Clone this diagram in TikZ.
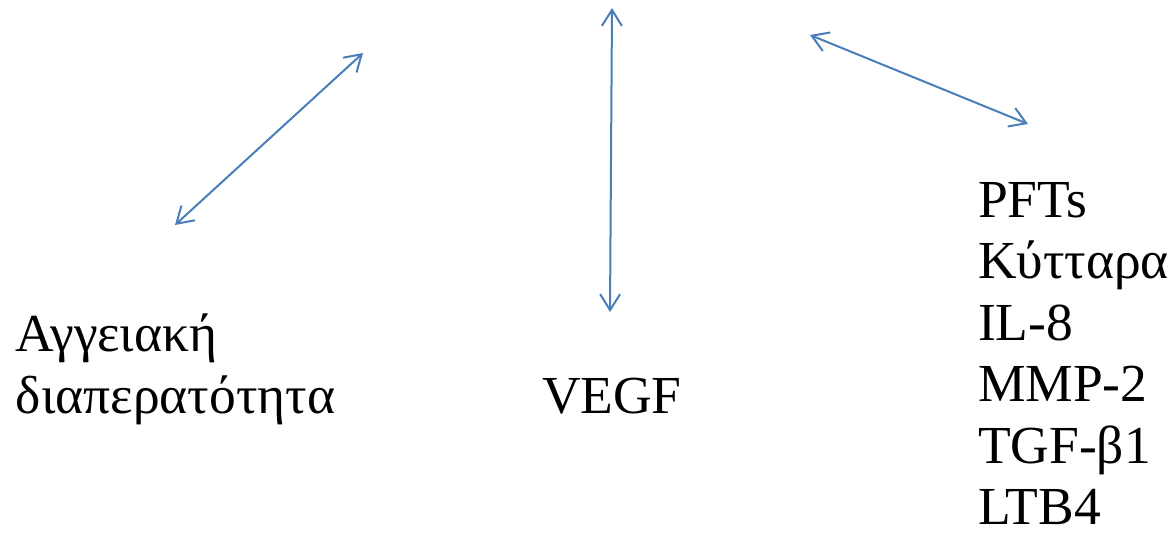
\documentclass[tikz,border=0pt]{standalone}
\usepackage{fontspec}
\setmainfont{Liberation Serif}
\usetikzlibrary{arrows.meta}
\definecolor{lineblue}{RGB}{74,126,187}
\tikzset{
  dbl/.style={draw=lineblue, line width=2pt, {Straight Barb[length=16pt,width=20pt,line width=2pt]}-{Straight Barb[length=16pt,width=20pt,line width=2pt]}},
  lbl/.style={anchor=base west, inner sep=0pt, outer sep=0pt, align=left, font=\fontsize{53.5}{61.5}\selectfont}
}
\begin{document}
\begin{tikzpicture}[x=1pt,y=-1pt]
\useasboundingbox (0,0) rectangle (1170,540);
\node[lbl] (perm) at (16,413) {Αγγειακή\\διαπερατότητα};
\node[lbl] (vegf) at (542,413) {VEGF};
\node[lbl] (list) at (978,524.5) {PFTs\\Κύτταρα\\IL-8\\MMP-2\\TGF-β1\\LTB4};
\coordinate (a1) at (175,225);
\coordinate (a2) at (363,53);
\coordinate (b1) at (612,8);
\coordinate (b2) at (610,312);
\coordinate (c1) at (810,35);
\coordinate (c2) at (1028,124);
\draw[dbl] (a1) -- (a2);
\draw[dbl] (b1) -- (b2);
\draw[dbl] (c1) -- (c2);
\end{tikzpicture}
\end{document}
